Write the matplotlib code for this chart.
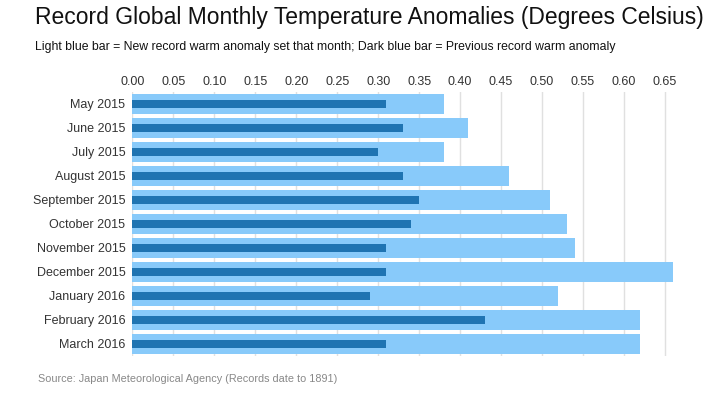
import matplotlib.pyplot as plt
import numpy as np

months = ["May 2015", "June 2015", "July 2015", "August 2015", "September 2015",
          "October 2015", "November 2015", "December 2015", "January 2016",
          "February 2016", "March 2016"]
new_record = [0.38, 0.41, 0.38, 0.46, 0.51, 0.53, 0.54, 0.66, 0.52, 0.62, 0.62]
prev_record = [0.31, 0.33, 0.30, 0.33, 0.35, 0.34, 0.31, 0.31, 0.29, 0.43, 0.31]
ticks = [0.00, 0.05, 0.10, 0.15, 0.20, 0.25, 0.30, 0.35, 0.40, 0.45, 0.50, 0.55, 0.60, 0.65]

plt.rcParams["font.family"] = ["Liberation Sans", "DejaVu Sans"]

light = "#88CAFA"
dark = "#1F74B2"
text_color = "#333333"

fig = plt.figure(figsize=(7.15, 3.99), dpi=100)
ax = fig.add_axes([0.185, 0.108, 0.768, 0.662])

y = np.arange(len(months))
ax.barh(y, new_record, height=0.83, color=light, zorder=2)
ax.barh(y, prev_record, height=0.33, color=dark, zorder=3)

ax.set_xlim(0, 0.67)
ax.set_ylim(len(months) - 0.5, -0.5)
ax.set_yticks(y)
ax.set_yticklabels(months)
ax.set_xticks(ticks)
ax.set_xticklabels([f"{t:.2f}" for t in ticks])
ax.xaxis.tick_top()
ax.tick_params(axis="both", length=0, labelsize=9, colors=text_color)
ax.tick_params(axis="x", pad=3)
ax.tick_params(axis="y", pad=5)

for spine in ax.spines.values():
    spine.set_visible(False)
ax.grid(axis="x", color="#E0E0E0", linewidth=1, zorder=0)
ax.set_axisbelow(True)

fig.text(0.049, 0.955, "Record Global Monthly Temperature Anomalies (Degrees Celsius)",
         fontsize=16.5, color="#111111", va="center", ha="left")
fig.text(0.049, 0.882, "Light blue bar = New record warm anomaly set that month; Dark blue bar = Previous record warm anomaly",
         fontsize=8.8, color="#111111", va="center", ha="left")
fig.text(0.053, 0.05, "Source: Japan Meteorological Agency (Records date to 1891)",
         fontsize=7.85, color="#888888", va="center", ha="left")

fig.savefig("out.png", dpi=100, facecolor="white")
